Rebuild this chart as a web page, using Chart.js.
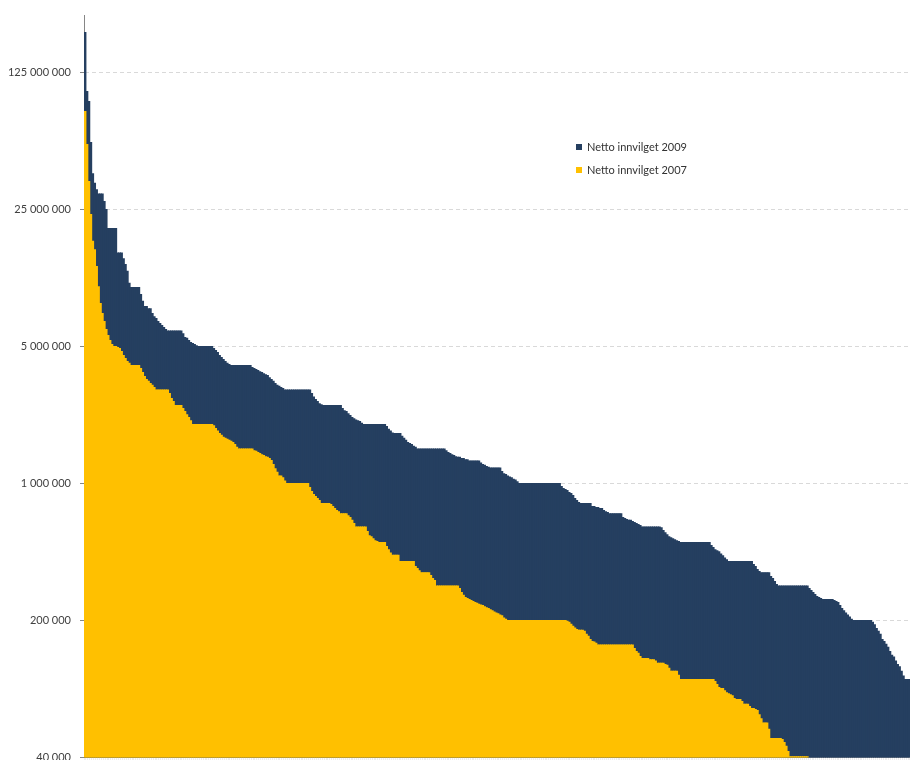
<!DOCTYPE html>
<html lang="no">
<head>
<meta charset="utf-8">
<title>Netto innvilget 2007 og 2009</title>
<script src="https://cdn.jsdelivr.net/npm/chart.js@4.4.1/dist/chart.umd.min.js"></script>
<style>
  html, body { margin: 0; padding: 0; background: #fff; overflow: hidden; }
  #wrap { position: relative; width: 910px; height: 773px; }
</style>
</head>
<body>
<div id="wrap"><canvas id="chart"></canvas></div>
<script>
// Y-axis tick values (log scale, factor 5 between ticks)
const yTicks = [40000, 200000, 1000000, 5000000, 25000000, 125000000];

// Net granted amount 2009, sorted from largest to smallest
const v2009 = [
  200000000, 100000000, 89000000, 55000000, 38000000, 34000000, 31500000, 30000000, 30000000, 30000000,
  27500000, 25000000, 20000000, 20000000, 20000000, 20000000, 20000000, 15000000, 15000000, 15000000,
  14000000, 13100000, 12100000, 10500000, 10000000, 10000000, 10000000, 10000000, 10000000, 9200000,
  8500000, 8000000, 8000000, 7800000, 7800000, 7370000, 7100000, 6950000, 6710000, 6550000,
  6400000, 6250000, 6100000, 6000000, 6000000, 6000000, 6000000, 6000000, 6000000, 6000000,
  6000000, 5800000, 5560000, 5500000, 5370000, 5240000, 5180000, 5120000, 5050000, 5000000,
  5000000, 5000000, 5000000, 5000000, 5000000, 5000000, 5000000, 4880000, 4770000, 4660000,
  4500000, 4390000, 4290000, 4190000, 4100000, 4050000, 4000000, 4000000, 4000000, 4000000,
  4000000, 4000000, 4000000, 4000000, 4000000, 4000000, 4000000, 3910000, 3860000, 3810000,
  3770000, 3720000, 3680000, 3630000, 3590000, 3550000, 3460000, 3390000, 3320000, 3240000,
  3170000, 3130000, 3090000, 3050000, 3000000, 3000000, 3000000, 3000000, 3000000, 3000000,
  3000000, 3000000, 3000000, 3000000, 3000000, 3000000, 3000000, 3000000, 2880000, 2760000,
  2680000, 2620000, 2550000, 2520000, 2500000, 2500000, 2500000, 2500000, 2500000, 2500000,
  2500000, 2500000, 2500000, 2500000, 2410000, 2350000, 2330000, 2270000, 2220000, 2170000,
  2140000, 2110000, 2090000, 2070000, 2030000, 2000000, 2000000, 2000000, 2000000, 2000000,
  2000000, 2000000, 2000000, 2000000, 2000000, 2000000, 2000000, 1950000, 1890000, 1850000,
  1810000, 1800000, 1800000, 1800000, 1800000, 1740000, 1700000, 1660000, 1620000, 1600000,
  1580000, 1550000, 1530000, 1500000, 1500000, 1500000, 1500000, 1500000, 1500000, 1500000,
  1500000, 1500000, 1500000, 1500000, 1500000, 1500000, 1500000, 1500000, 1470000, 1440000,
  1420000, 1400000, 1390000, 1370000, 1360000, 1360000, 1340000, 1340000, 1320000, 1320000,
  1300000, 1300000, 1300000, 1300000, 1300000, 1300000, 1270000, 1250000, 1240000, 1220000,
  1210000, 1200000, 1200000, 1200000, 1200000, 1200000, 1200000, 1150000, 1120000, 1110000,
  1090000, 1080000, 1070000, 1050000, 1040000, 1020000, 1000000, 1000000, 1000000, 1000000,
  1000000, 1000000, 1000000, 1000000, 1000000, 1000000, 1000000, 1000000, 1000000, 1000000,
  1000000, 1000000, 1000000, 1000000, 1000000, 1000000, 1000000, 1000000, 965000, 942000,
  931000, 920000, 899000, 888000, 867000, 838000, 819000, 800000, 790000, 790000,
  790000, 790000, 790000, 790000, 763000, 763000, 754000, 754000, 745000, 745000,
  727000, 718000, 710000, 701000, 700000, 700000, 700000, 700000, 700000, 700000,
  671000, 663000, 655000, 648000, 648000, 640000, 632000, 625000, 618000, 610000,
  600000, 600000, 600000, 600000, 600000, 600000, 600000, 600000, 600000, 600000,
  595000, 575000, 561000, 547000, 534000, 528000, 522000, 516000, 510000, 505000,
  500000, 500000, 500000, 500000, 500000, 500000, 500000, 500000, 500000, 500000,
  500000, 500000, 500000, 500000, 500000, 500000, 483000, 471000, 459000, 454000,
  448000, 437000, 427000, 417000, 408000, 400000, 400000, 400000, 400000, 400000,
  400000, 400000, 400000, 400000, 400000, 400000, 400000, 400000, 386000, 377000,
  364000, 355000, 350000, 350000, 350000, 350000, 350000, 335000, 327000, 316000,
  305000, 300000, 300000, 300000, 300000, 300000, 300000, 300000, 300000, 300000,
  300000, 300000, 300000, 300000, 300000, 300000, 300000, 291000, 284000, 278000,
  271000, 265000, 262000, 259000, 256000, 256000, 256000, 256000, 256000, 256000,
  253000, 250000, 247000, 238000, 230000, 224000, 218000, 213000, 208000, 203000,
  200000, 200000, 200000, 200000, 200000, 200000, 200000, 200000, 200000, 200000,
  196000, 190000, 182000, 176000, 170000, 160000, 156000, 151000, 146000, 139000,
  133000, 130000, 124000, 119000, 116000, 110000, 104000, 100000, 100000, 100000
];

// Net granted amount 2007, sorted from largest to smallest (null: below the axis floor)
const v2007 = [
  79000000, 53700000, 34700000, 23600000, 17200000, 15600000, 12800000, 10100000, 8290000, 7370000,
  6710000, 6100000, 5690000, 5370000, 5120000, 5000000, 5000000, 4940000, 4880000, 4710000,
  4500000, 4340000, 4190000, 4100000, 4000000, 4000000, 4000000, 4000000, 4000000, 3860000,
  3680000, 3510000, 3390000, 3320000, 3240000, 3170000, 3090000, 3000000, 3000000, 3000000,
  3000000, 3000000, 3000000, 3000000, 2880000, 2710000, 2620000, 2500000, 2500000, 2500000,
  2500000, 2410000, 2330000, 2240000, 2170000, 2090000, 2000000, 2000000, 2000000, 2000000,
  2000000, 2000000, 2000000, 2000000, 2000000, 2000000, 2000000, 1970000, 1910000, 1850000,
  1800000, 1760000, 1720000, 1700000, 1680000, 1660000, 1640000, 1620000, 1580000, 1530000,
  1500000, 1500000, 1500000, 1500000, 1500000, 1500000, 1500000, 1500000, 1470000, 1460000,
  1440000, 1420000, 1400000, 1390000, 1370000, 1360000, 1340000, 1310000, 1250000, 1190000,
  1140000, 1090000, 1090000, 1070000, 1030000, 1000000, 1000000, 1000000, 1000000, 1000000,
  1000000, 1000000, 1000000, 1000000, 1000000, 1000000, 1000000, 953000, 909000, 878000,
  857000, 838000, 819000, 790000, 790000, 790000, 790000, 790000, 782000, 763000,
  745000, 727000, 718000, 700000, 700000, 700000, 700000, 684000, 671000, 648000,
  625000, 600000, 600000, 600000, 600000, 600000, 600000, 569000, 541000, 534000,
  522000, 510000, 505000, 500000, 500000, 500000, 500000, 477000, 459000, 442000,
  430000, 430000, 430000, 430000, 400000, 400000, 400000, 400000, 400000, 400000,
  400000, 400000, 377000, 368000, 359000, 350000, 350000, 350000, 350000, 350000,
  339000, 327000, 320000, 300000, 300000, 300000, 300000, 300000, 300000, 300000,
  300000, 300000, 300000, 300000, 300000, 291000, 278000, 269000, 262000, 259000,
  256000, 253000, 250000, 247000, 245000, 242000, 240000, 238000, 235000, 232000,
  230000, 227000, 224000, 221000, 218000, 216000, 213000, 211000, 206000, 203000,
  200000, 200000, 200000, 200000, 200000, 200000, 200000, 200000, 200000, 200000,
  200000, 200000, 200000, 200000, 200000, 200000, 200000, 200000, 200000, 200000,
  200000, 200000, 200000, 200000, 200000, 200000, 200000, 200000, 200000, 200000,
  200000, 198000, 196000, 191000, 187000, 183000, 180000, 178000, 178000, 178000,
  176000, 170000, 166000, 160000, 156000, 155000, 153000, 150000, 150000, 150000,
  150000, 150000, 150000, 150000, 150000, 150000, 150000, 150000, 150000, 150000,
  150000, 150000, 150000, 150000, 150000, 150000, 144000, 139000, 136000, 131000,
  128000, 128000, 128000, 128000, 126000, 126000, 126000, 124000, 121000, 121000,
  121000, 121000, 119000, 118000, 114000, 110000, 110000, 110000, 110000, 105000,
  100000, 100000, 100000, 100000, 100000, 100000, 100000, 100000, 100000, 100000,
  100000, 100000, 100000, 100000, 100000, 100000, 100000, 100000, 97700, 94300,
  90900, 90000, 90000, 87600, 85500, 84500, 83500, 82500, 80000, 79000,
  79000, 79000, 77200, 74600, 74600, 74600, 72800, 71000, 71000, 70200,
  69400, 66100, 63000, 60000, 60000, 60000, 55600, 50000, 50000, 50000,
  50000, 50000, 50000, 49400, 47700, 45600, 42900, 40300, 40300, 40300,
  40300, 40300, 40300, 40300, 40300, 40300, 40300, null, null, null,
  null, null, null, null, null, null, null, null, null, null,
  null, null, null, null, null, null, null, null, null, null,
  null, null, null, null, null, null, null, null, null, null,
  null, null, null, null, null, null, null, null, null, null,
  null, null, null, null, null, null, null, null, null, null
];

// One category per recipient, ranked by size
const ranks = v2009.map((_, i) => i + 1);

const formatNok = (v) => String(v).replace(/\B(?=(\d{3})+(?!\d))/g, ' ');

// Legend drawn inside the plot area
const insideLegend = {
  id: 'insideLegend',
  afterDraw(chart, args, opts) {
    const { ctx } = chart;
    ctx.save();
    ctx.font = opts.font;
    ctx.textBaseline = 'middle';
    ctx.textAlign = 'left';
    opts.items.forEach((idx, row) => {
      const ds = chart.data.datasets[idx];
      const y = opts.y + row * opts.rowGap;
      ctx.fillStyle = ds.backgroundColor;
      ctx.fillRect(opts.x, y - opts.box / 2, opts.box, opts.box);
      ctx.fillStyle = opts.color;
      ctx.fillText(ds.label, opts.x + opts.box + opts.textGap, y);
    });
    ctx.restore();
  }
};

Chart.defaults.font.family = 'Lato, "Open Sans", sans-serif';
Chart.defaults.font.size = 11;
Chart.defaults.color = '#404040';

new Chart(document.getElementById('chart'), {
  type: 'bar',
  data: {
    labels: ranks,
    datasets: [
      {
        label: 'Netto innvilget 2009',
        data: v2009,
        backgroundColor: '#253F60',
        order: 1
      },
      {
        label: 'Netto innvilget 2007',
        data: v2007,
        backgroundColor: '#FFC000',
        order: 0
      }
    ]
  },
  options: {
    responsive: true,
    maintainAspectRatio: false,
    animation: false,
    events: [],
    layout: { padding: { top: 14, right: 0, bottom: 0, left: 0 } },
    datasets: {
      bar: {
        grouped: false,
        barPercentage: 1,
        categoryPercentage: 1,
        borderWidth: 0,
        inflateAmount: 0.5
      }
    },
    scales: {
      x: {
        type: 'category',
        offset: true,
        ticks: { display: false },
        grid: {
          display: true,
          drawOnChartArea: false,
          drawTicks: true,
          tickLength: 3,
          tickColor: 'rgba(150,150,150,0.35)',
          tickWidth: 0.5
        },
        border: { display: true, color: '#9a9a9a', width: 1 }
      },
      y: {
        type: 'logarithmic',
        min: 40000,
        max: 244000000,
        afterBuildTicks: (scale) => { scale.ticks = yTicks.map((v) => ({ value: v })); },
        afterFit: (scale) => { scale.width = 84; },
        ticks: {
          autoSkip: false,
          padding: 9,
          color: '#404040',
          font: { size: 11 },
          callback: (v) => formatNok(v)
        },
        grid: {
          color: '#d9d9d9',
          lineWidth: 1,
          drawTicks: true,
          tickLength: 4,
          tickColor: '#868686',
          tickBorderDash: []
        },
        border: { display: true, color: '#868686', width: 1, dash: [4, 3] }
      }
    },
    plugins: {
      legend: { display: false },
      tooltip: { enabled: false },
      insideLegend: {
        x: 576,
        y: 147,
        rowGap: 23,
        box: 6,
        textGap: 5,
        font: '11px Lato, "Open Sans", sans-serif',
        color: '#333333',
        items: [0, 1]
      }
    }
  },
  plugins: [insideLegend]
});
</script>
</body>
</html>
